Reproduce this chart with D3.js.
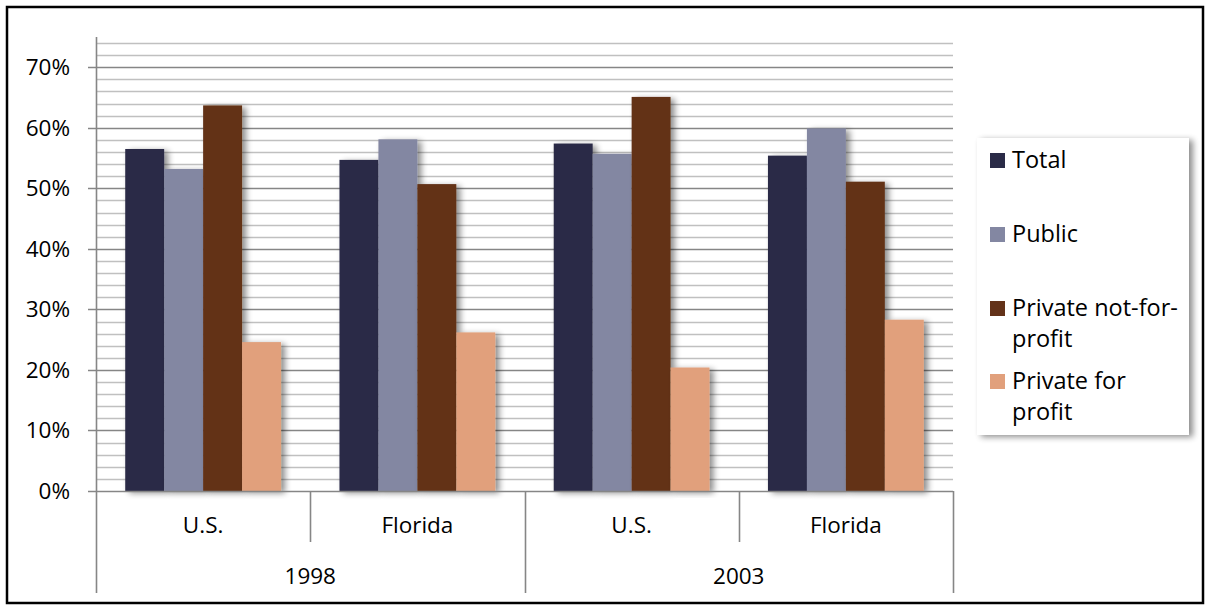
<!DOCTYPE html>
<html>
<head>
<meta charset="utf-8">
<script src="https://cdn.jsdelivr.net/npm/d3@7"></script>
<style>
body{margin:0;background:#fff;}
text{font-family:"Open Sans",Calibri,sans-serif;fill:#000;}
</style>
</head>
<body>
<script>
var years = ["1998","2003"];
var places = ["U.S.","Florida"];
var seriesNames = ["Total","Public","Private not-for-profit","Private for profit"];
var legendLines = [["Total"],["Public"],["Private not-for-","profit"],["Private for","profit"]];
var colors = ["#2a2b47","#8387a2","#633219","#e1a07c"];
var total  = [0.565,0.547,0.574,0.554];
var pub    = [0.532,0.581,0.557,0.599];
var pnfp   = [0.637,0.507,0.651,0.511];
var pfp    = [0.246,0.262,0.204,0.283];
var yTicks = [0,0.1,0.2,0.3,0.4,0.5,0.6,0.7];

var W = 1210, H = 606;
var plotL = 96, plotR = 953, plotT = 37, base = 491;
var fs = "22.5px";

var svg = d3.select("body").append("svg").attr("width",W).attr("height",H);
var defs = svg.append("defs");
var f = defs.append("filter").attr("id","sh").attr("x","-20%").attr("y","-5%").attr("width","160%").attr("height","110%");
f.append("feGaussianBlur").attr("in","SourceAlpha").attr("stdDeviation",3);
f.append("feOffset").attr("dx",4).attr("dy",2).attr("result","b");
f.append("feComponentTransfer").append("feFuncA").attr("type","linear").attr("slope",0.45);
var m = f.append("feMerge");
m.append("feMergeNode");
m.append("feMergeNode").attr("in","SourceGraphic");

svg.append("rect").attr("x",7).attr("y",7).attr("width",W-14).attr("height",H-10)
   .attr("fill","#fff").attr("stroke","#000").attr("stroke-width",2.5);

var y = d3.scaleLinear().domain([0,0.75]).range([base,plotT]);
var cats = [];
years.forEach(function(yr){ places.forEach(function(p){ cats.push(yr+"|"+p); }); });
var x0 = d3.scaleBand().domain(cats).range([plotL,plotR]).paddingInner(0).paddingOuter(0);
// Excel gap width 150%: bars take 4/(4+1.5) of category
var gap = x0.bandwidth()*1.5/5.5/2;
var x1 = d3.scaleBand().domain(seriesNames).range([gap, x0.bandwidth()-gap]).padding(0);

// gridlines
var minor = d3.range(0.02,0.75,0.02).filter(function(v){ return Math.abs(v*10-Math.round(v*10))>0.01; });
svg.append("g").selectAll("line").data(minor).enter().append("line")
  .attr("x1",plotL).attr("x2",plotR).attr("y1",function(d){return Math.round(y(d))+0.5;}).attr("y2",function(d){return Math.round(y(d))+0.5;})
  .attr("stroke","#c0c0c0").attr("stroke-width",1.6);
svg.append("g").selectAll("line").data(yTicks.slice(1)).enter().append("line")
  .attr("x1",plotL-8).attr("x2",plotR).attr("y1",function(d){return Math.round(y(d))+0.5;}).attr("y2",function(d){return Math.round(y(d))+0.5;})
  .attr("stroke","#868686").attr("stroke-width",1.6);

// y axis
var yAxis = d3.axisLeft(y).tickValues(yTicks).tickFormat(d3.format(".0%")).tickSize(0).tickPadding(26);
var ya = svg.append("g").attr("transform","translate("+plotL+",0)").call(yAxis);
ya.select(".domain").remove();
ya.selectAll("text").style("font-size",fs).style("font-family","'Open Sans',sans-serif").attr("fill","#000");

// bars
var data = [total,pub,pnfp,pfp];
var groups = svg.append("g").selectAll("g").data(cats).enter().append("g")
  .attr("transform",function(d){return "translate("+x0(d)+",0)";});
groups.selectAll("rect").data(function(d,i){ return seriesNames.map(function(s,k){ return {s:s,k:k,v:data[k][i]}; }); })
  .enter().append("rect")
  .attr("x",function(d){return x1(d.s);})
  .attr("width",x1.bandwidth())
  .attr("y",function(d){return y(d.v);})
  .attr("height",function(d){return base-y(d.v);})
  .attr("fill",function(d){return colors[d.k];})
  .attr("filter","url(#sh)");

// axis lines
svg.append("line").attr("x1",plotL+0.5).attr("x2",plotL+0.5).attr("y1",plotT).attr("y2",593).attr("stroke","#868686").attr("stroke-width",1.6);
svg.append("line").attr("x1",plotL-8).attr("x2",plotR).attr("y1",base+0.5).attr("y2",base+0.5).attr("stroke","#868686").attr("stroke-width",1.6);

// category ticks
var bounds = d3.range(1,cats.length+1).map(function(i){ return plotL + i*x0.bandwidth(); });
svg.append("g").selectAll("line").data(bounds).enter().append("line")
  .attr("x1",function(d){return Math.round(d)+0.5;}).attr("x2",function(d){return Math.round(d)+0.5;})
  .attr("y1",base).attr("y2",function(d,i){ return (i%2==1)?593:542; })
  .attr("stroke","#868686").attr("stroke-width",1.6);

// category labels
svg.append("g").selectAll("text").data(cats).enter().append("text")
  .attr("x",function(d){return x0(d)+x0.bandwidth()/2;}).attr("y",533)
  .attr("text-anchor","middle").style("font-size",fs)
  .text(function(d){return d.split("|")[1];});
svg.append("g").selectAll("text").data(years).enter().append("text")
  .attr("x",function(d,i){return plotL + (2*i+1)*x0.bandwidth();}).attr("y",584)
  .attr("text-anchor","middle").style("font-size",fs)
  .text(function(d){return d;});

// legend
var lg = svg.append("g");
lg.append("rect").attr("x",977).attr("y",138).attr("width",212).attr("height",297)
  .attr("fill","#fff").attr("filter","url(#sh)");
var itemBase = [168,242,316,389];
legendLines.forEach(function(lines,k){
  lg.append("rect").attr("x",990).attr("y",itemBase[k]-15).attr("width",15).attr("height",15).attr("fill",colors[k]);
  lines.forEach(function(t,j){
    lg.append("text").attr("x",1012).attr("y",itemBase[k]+j*31).style("font-size","23.5px").text(t);
  });
});
</script>
</body>
</html>
